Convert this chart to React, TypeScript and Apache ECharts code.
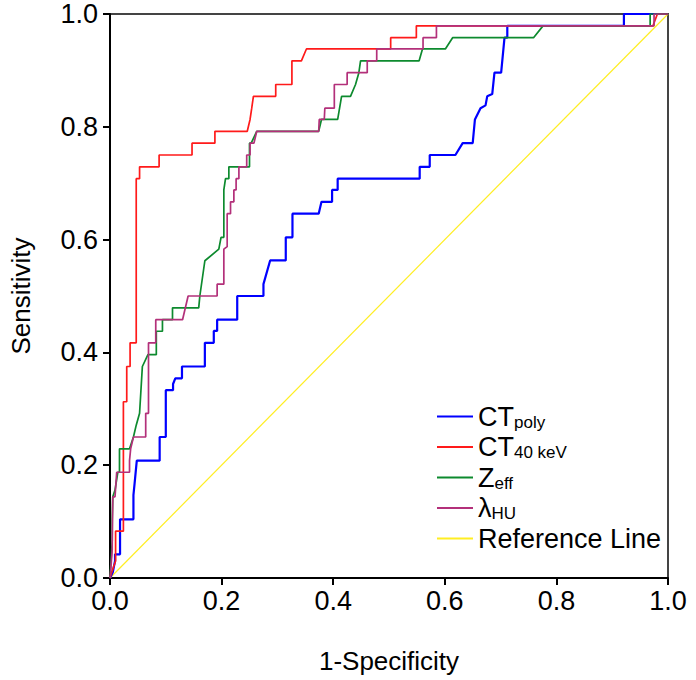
import React, { useEffect, useRef } from "react";
import * as echarts from "echarts";

const FONT = "'Liberation Sans', Arial, Helvetica, sans-serif";

const seriesNames = ["CTpoly", "CT40 keV", "Zeff", "λHU", "Reference Line"];
const seriesColors = ["#0000ff", "#ff1a1a", "#0d8a2e", "#b3307a", "#ffee22"];
const legendMain = ["CT", "CT", "Z", "λ", "Reference Line"];
const legendSub = ["poly", "40 keV", "eff", "HU", ""];
const tickValues = [0, 0.2, 0.4, 0.6, 0.8, 1.0];

const ctPoly: number[][] = [
  [0, 0], [0.005, 0.01], [0.009, 0.03], [0.009, 0.042], [0.018, 0.042], [0.018, 0.104],
  [0.042, 0.104], [0.042, 0.147], [0.044, 0.167], [0.048, 0.208], [0.089, 0.208], [0.089, 0.25],
  [0.1, 0.25], [0.1, 0.333], [0.113, 0.333], [0.113, 0.344], [0.117, 0.354], [0.129, 0.354],
  [0.129, 0.375], [0.17, 0.375], [0.17, 0.417], [0.186, 0.417], [0.186, 0.438], [0.192, 0.438],
  [0.192, 0.458], [0.228, 0.458], [0.228, 0.5], [0.275, 0.5], [0.275, 0.521], [0.287, 0.563],
  [0.315, 0.563], [0.315, 0.604], [0.327, 0.604], [0.327, 0.646], [0.374, 0.646], [0.379, 0.667],
  [0.398, 0.667], [0.398, 0.688], [0.408, 0.688], [0.408, 0.708], [0.555, 0.708], [0.555, 0.729],
  [0.573, 0.729], [0.573, 0.75], [0.619, 0.75], [0.632, 0.771], [0.65, 0.771], [0.654, 0.813],
  [0.664, 0.833], [0.673, 0.838], [0.676, 0.854], [0.685, 0.858], [0.689, 0.896], [0.701, 0.896],
  [0.707, 0.958], [0.712, 0.958], [0.712, 0.979], [0.921, 0.979], [0.921, 1], [1, 1],
];

const ct40: number[][] = [
  [0, 0], [0.003, 0.01], [0.01, 0.03], [0.01, 0.083], [0.024, 0.083], [0.024, 0.3125],
  [0.03, 0.3125], [0.03, 0.375], [0.036, 0.375], [0.036, 0.417], [0.047, 0.417], [0.047, 0.708],
  [0.053, 0.708], [0.053, 0.729], [0.088, 0.729], [0.088, 0.75], [0.147, 0.75], [0.147, 0.771],
  [0.188, 0.771], [0.188, 0.792], [0.246, 0.792], [0.251, 0.813], [0.254, 0.833], [0.257, 0.854],
  [0.297, 0.854], [0.297, 0.875], [0.326, 0.875], [0.326, 0.917], [0.343, 0.917], [0.352, 0.938],
  [0.503, 0.938], [0.503, 0.958], [0.549, 0.958], [0.549, 0.979], [0.973, 0.979], [0.981, 1], [1, 1],
];

const zeff: number[][] = [
  [0, 0], [0.002, 0.032], [0.004, 0.067], [0.004, 0.104], [0.005, 0.144], [0.009, 0.156],
  [0.014, 0.1875], [0.017, 0.1875], [0.017, 0.229], [0.035, 0.229], [0.042, 0.25], [0.047, 0.271],
  [0.053, 0.292], [0.058, 0.375], [0.068, 0.396], [0.083, 0.396], [0.083, 0.4375], [0.094, 0.4375],
  [0.094, 0.458], [0.112, 0.458], [0.112, 0.479], [0.159, 0.479], [0.161, 0.5], [0.17, 0.5625],
  [0.195, 0.583], [0.199, 0.604], [0.204, 0.604], [0.204, 0.688], [0.207, 0.708], [0.213, 0.708],
  [0.213, 0.729], [0.25, 0.729], [0.25, 0.771], [0.253, 0.771], [0.263, 0.792], [0.374, 0.792],
  [0.379, 0.813], [0.408, 0.813], [0.415, 0.854], [0.431, 0.854], [0.44, 0.875], [0.446, 0.896],
  [0.449, 0.917], [0.554, 0.917], [0.56, 0.938], [0.601, 0.938], [0.614, 0.958], [0.759, 0.958],
  [0.776, 0.979], [0.968, 0.979], [0.968, 1], [1, 1],
];

const lambdaHU: number[][] = [
  [0, 0], [0.002, 0.023], [0.004, 0.05], [0.004, 0.067], [0.005, 0.144], [0.009, 0.144],
  [0.012, 0.1875], [0.035, 0.1875], [0.035, 0.208], [0.037, 0.229], [0.042, 0.25], [0.064, 0.25],
  [0.064, 0.292], [0.069, 0.292], [0.069, 0.417], [0.082, 0.417], [0.082, 0.458], [0.13, 0.458],
  [0.14, 0.5], [0.192, 0.5], [0.192, 0.521], [0.204, 0.521], [0.204, 0.583], [0.21, 0.5875],
  [0.21, 0.646], [0.216, 0.646], [0.216, 0.667], [0.222, 0.667], [0.222, 0.688], [0.226, 0.688],
  [0.226, 0.708], [0.231, 0.708], [0.231, 0.729], [0.245, 0.729], [0.245, 0.75], [0.251, 0.75],
  [0.251, 0.771], [0.258, 0.771], [0.263, 0.792], [0.374, 0.792], [0.375, 0.813], [0.384, 0.813],
  [0.385, 0.833], [0.402, 0.833], [0.402, 0.875], [0.425, 0.875], [0.425, 0.896], [0.461, 0.896],
  [0.461, 0.917], [0.478, 0.917], [0.478, 0.938], [0.561, 0.938], [0.561, 0.958], [0.585, 0.958],
  [0.585, 0.979], [0.975, 0.979], [0.975, 1], [1, 1],
];

const referenceLine: number[][] = [[0, 0], [1, 1]];

const seriesData = [ctPoly, ct40, zeff, lambdaHU, referenceLine];
const seriesWidths = [2.2, 1.7, 1.7, 1.7, 1.2];

export default function App() {
  const ref = useRef<HTMLDivElement>(null);
  useEffect(() => {
    if (!ref.current) return;
    const chart = echarts.init(ref.current, undefined, { renderer: "svg" });
    const labelMap: Record<string, string> = {};
    seriesNames.forEach((n, i) => {
      labelMap[n] = legendSub[i]
        ? `{m|${legendMain[i]}}{s|${legendSub[i]}}`
        : `{m|${legendMain[i]}}`;
    });
    const axisCommon = {
      type: "value" as const,
      min: 0,
      max: 1,
      interval: 0.2,
      nameLocation: "middle" as const,
      nameTextStyle: { fontSize: 26, color: "#000", fontFamily: FONT },
      axisLine: { show: true, lineStyle: { color: "#000", width: 2 } },
      axisTick: { show: true, length: 7, lineStyle: { color: "#000", width: 2 } },
      axisLabel: {
        fontSize: 27,
        color: "#000",
        fontFamily: FONT,
        formatter: (v: number) => (tickValues.some((t) => Math.abs(t - v) < 1e-6) ? v.toFixed(1) : ""),
      },
      splitLine: { show: false },
    };
    chart.setOption({
      animation: false,
      backgroundColor: "#fff",
      grid: {
        left: 103,
        top: 14,
        right: 28,
        bottom: 102,
        show: true,
        borderColor: "#444",
        borderWidth: 2,
        backgroundColor: "transparent",
      },
      xAxis: {
        ...axisCommon,
        name: "1-Specificity",
        nameGap: 70,
        axisLabel: { ...axisCommon.axisLabel, margin: 9 },
      },
      yAxis: {
        ...axisCommon,
        name: "Sensitivity",
        nameGap: 76,
        axisLabel: { ...axisCommon.axisLabel, margin: 12 },
      },
      legend: {
        orient: "vertical",
        left: 437,
        top: 403,
        padding: 0,
        itemWidth: 36,
        itemHeight: 2,
        itemGap: 3,
        icon: "rect",
        data: seriesNames,
        formatter: (name: string) => labelMap[name],
        textStyle: {
          fontSize: 27,
          color: "#000",
          fontFamily: FONT,
          rich: {
            m: { fontSize: 27, lineHeight: 28, color: "#000", fontFamily: FONT },
            s: { fontSize: 17, verticalAlign: "bottom", color: "#000", fontFamily: FONT },
          },
        },
      },
      series: seriesNames.map((name, i) => ({
        name,
        type: "line",
        data: seriesData[i],
        showSymbol: false,
        symbol: "none",
        color: seriesColors[i],
        lineStyle: { color: seriesColors[i], width: seriesWidths[i] },
        z: i === 4 ? 1 : 2 + i,
      })),
    });
    return () => chart.dispose();
  }, []);
  return (
    <div
      ref={ref}
      style={{ position: "fixed", left: 0, top: 0, width: 696, height: 680, background: "#fff" }}
    />
  );
}
